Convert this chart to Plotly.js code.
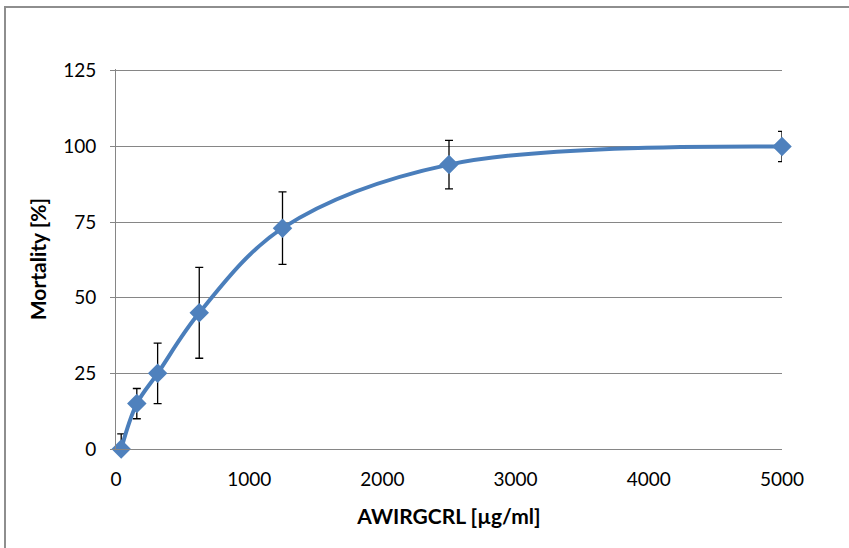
<!DOCTYPE html>
<html>
<head>
<meta charset="utf-8">
<script src="https://cdn.plot.ly/plotly-3.0.1.min.js"></script>
<style>
html,body{margin:0;padding:0;background:#fff;overflow:hidden;}
#wrap{position:relative;width:849px;height:548px;overflow:hidden;}
#chart{width:849px;height:548px;}
#frame{position:absolute;left:4px;top:6px;width:900px;height:600px;border:2px solid #8e8e8e;pointer-events:none;}
</style>
</head>
<body>
<div id="wrap"><div id="chart"></div><div id="frame"></div></div>
<script>
const concentration = [39.06, 156.25, 312.5, 625, 1250, 2500, 5000];
const mortality = [0, 15, 25, 45, 73, 94, 100];
const errPlus = [5, 5, 10, 15, 12, 8, 5];
const errMinus = [0, 5, 10, 15, 12, 8, 5];
const xTicks = [0, 1000, 2000, 3000, 4000, 5000];
const yTicks = [0, 25, 50, 75, 100, 125];

const trace = {
  x: concentration,
  y: mortality,
  type: 'scatter',
  mode: 'lines+markers',
  line: {color: '#4A7EBB', width: 4, shape: 'spline', smoothing: 1.0},
  marker: {symbol: 'diamond', size: 15, color: '#4F81BD', line: {width: 0}},
  error_y: {type: 'data', symmetric: false, array: errPlus, arrayminus: errMinus,
            color: '#000', thickness: 1.3, width: 4},
  cliponaxis: false,
  showlegend: false
};

const tickFont = {family: 'Lato, Carlito, Calibri, sans-serif', size: 19, color: '#000'};
const titleFont = {family: 'Lato, Carlito, Calibri, sans-serif', size: 21, color: '#000', weight: 700};
const layout = {
  width: 849, height: 548,
  margin: {l: 116, r: 67, t: 69, b: 99},
  paper_bgcolor: '#fff', plot_bgcolor: '#fff',
  font: tickFont,
  xaxis: {
    range: [0, 5000], tickvals: xTicks, ticktext: xTicks.map(String),
    showgrid: false, zeroline: false,
    showline: true, linecolor: '#868686', linewidth: 1,
    ticks: '', tickfont: tickFont, ticklabelstandoff: 13,
    title: {text: 'AWIRGCRL [µg/ml]', font: titleFont, standoff: 20}
  },
  yaxis: {
    range: [0, 125.6], tickvals: yTicks, ticktext: yTicks.map(String),
    showgrid: true, gridcolor: '#868686', gridwidth: 1, zeroline: false,
    showline: true, linecolor: '#868686', linewidth: 1,
    ticks: 'outside', ticklen: 5, tickcolor: '#868686',
    tickfont: tickFont, ticklabelstandoff: 10,
    title: {text: 'Mortality [%]', font: titleFont, standoff: 10}
  }
};
Plotly.newPlot('chart', [trace], layout, {displayModeBar: false, staticPlot: true});
</script>
</body>
</html>
